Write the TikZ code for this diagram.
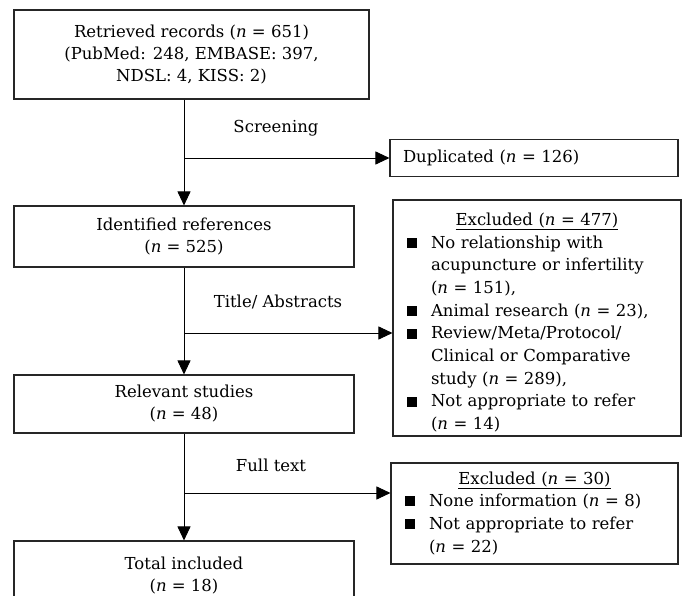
\documentclass[tikz,border=0pt]{standalone}
\usepackage{fontspec}
\setmainfont{DejaVu Serif}
\usetikzlibrary{arrows.meta}
\newcommand{\sqbullet}{\rule[0.3pt]{10pt}{10pt}}
\renewcommand{\arraystretch}{1.03}

\begin{document}
\begin{tikzpicture}[x=1pt, y=-1pt,
    every node/.style={font=\fontsize{16.5}{22}\selectfont},
    box/.style={draw=black!85, line width=1.1pt, inner sep=0pt, align=center},
    sidebox/.style={box, minimum width=288, align=left},
    flow/.style={line width=0.9pt, -{Triangle[length=14pt, width=13pt]}}]
  \useasboundingbox (0,0) rectangle (683,596);

  % main column
  \node[box, minimum width=355, minimum height=89] (retr) at (191.5,54.5)
    {Retrieved records (\emph{n} = 651)\\(PubMed: 248, EMBASE: 397,\\NDSL: 4, KISS: 2)};
  \node[box, minimum width=340, minimum height=61] (ident) at (184,236.5)
    {Identified references\\(\emph{n} = 525)};
  \node[box, minimum width=340, minimum height=58] (relev) at (184,404)
    {Relevant studies\\(\emph{n} = 48)};
  \node[box, minimum width=340, minimum height=70] (total) at (184,576)
    {Total included\\(\emph{n} = 18)};

  % side boxes
  \node[sidebox, minimum height=37, text width=262, inner xsep=13] (dup) at (534,158)
    {Duplicated (\emph{n} = 126)};
  \node[sidebox, minimum height=236, text width=260, inner xsep=14] (excl1) at (537,318)
    {\vspace*{-10pt}\begin{tabular}{@{}l@{\hspace{14pt}}l@{}}
      \multicolumn{2}{@{}l@{}}{\makebox[260pt]{\underline{Excluded (\emph{n} = 477)}}}\\
      \sqbullet & No relationship with\\
                & acupuncture or infertility\\
                & (\emph{n} = 151),\\
      \sqbullet & Animal research (\emph{n} = 23),\\
      \sqbullet & Review/Meta/Protocol/\\
                & Clinical or Comparative\\
                & study (\emph{n} = 289),\\
      \sqbullet & Not appropriate to refer\\
                & (\emph{n} = 14)
    \end{tabular}};
  \node[sidebox, minimum width=287, minimum height=101, text width=259, inner xsep=14] (excl2) at (534.5,513.5)
    {\begin{tabular}{@{}l@{\hspace{14pt}}l@{}}
      \multicolumn{2}{@{}l@{}}{\makebox[259pt]{\underline{Excluded (\emph{n} = 30)}}}\\
      \sqbullet & None information (\emph{n} = 8)\\
      \sqbullet & Not appropriate to refer\\
                & (\emph{n} = 22)
    \end{tabular}};

  % step labels
  \node (scrlbl) at (276,128) {Screening};
  \node (talbl) at (278,302) {Title/ Abstracts};
  \node (ftlbl) at (271,465) {Full text};

  % branch points
  \coordinate (br1) at (185,158);
  \coordinate (br2) at (185,333);
  \coordinate (br3) at (185,493);

  \draw[flow] (retr.south -| ident.north) -- (ident.north);
  \draw[flow] (ident.south) -- (relev.north);
  \draw[flow] (relev.south) -- (total.north);
  \draw[flow] (br1) -- (br1 -| dup.west);
  \draw[flow] (br2) -- (br2 -| excl1.west);
  \draw[flow] (br3) -- (br3 -| excl2.west);
\end{tikzpicture}
\end{document}
